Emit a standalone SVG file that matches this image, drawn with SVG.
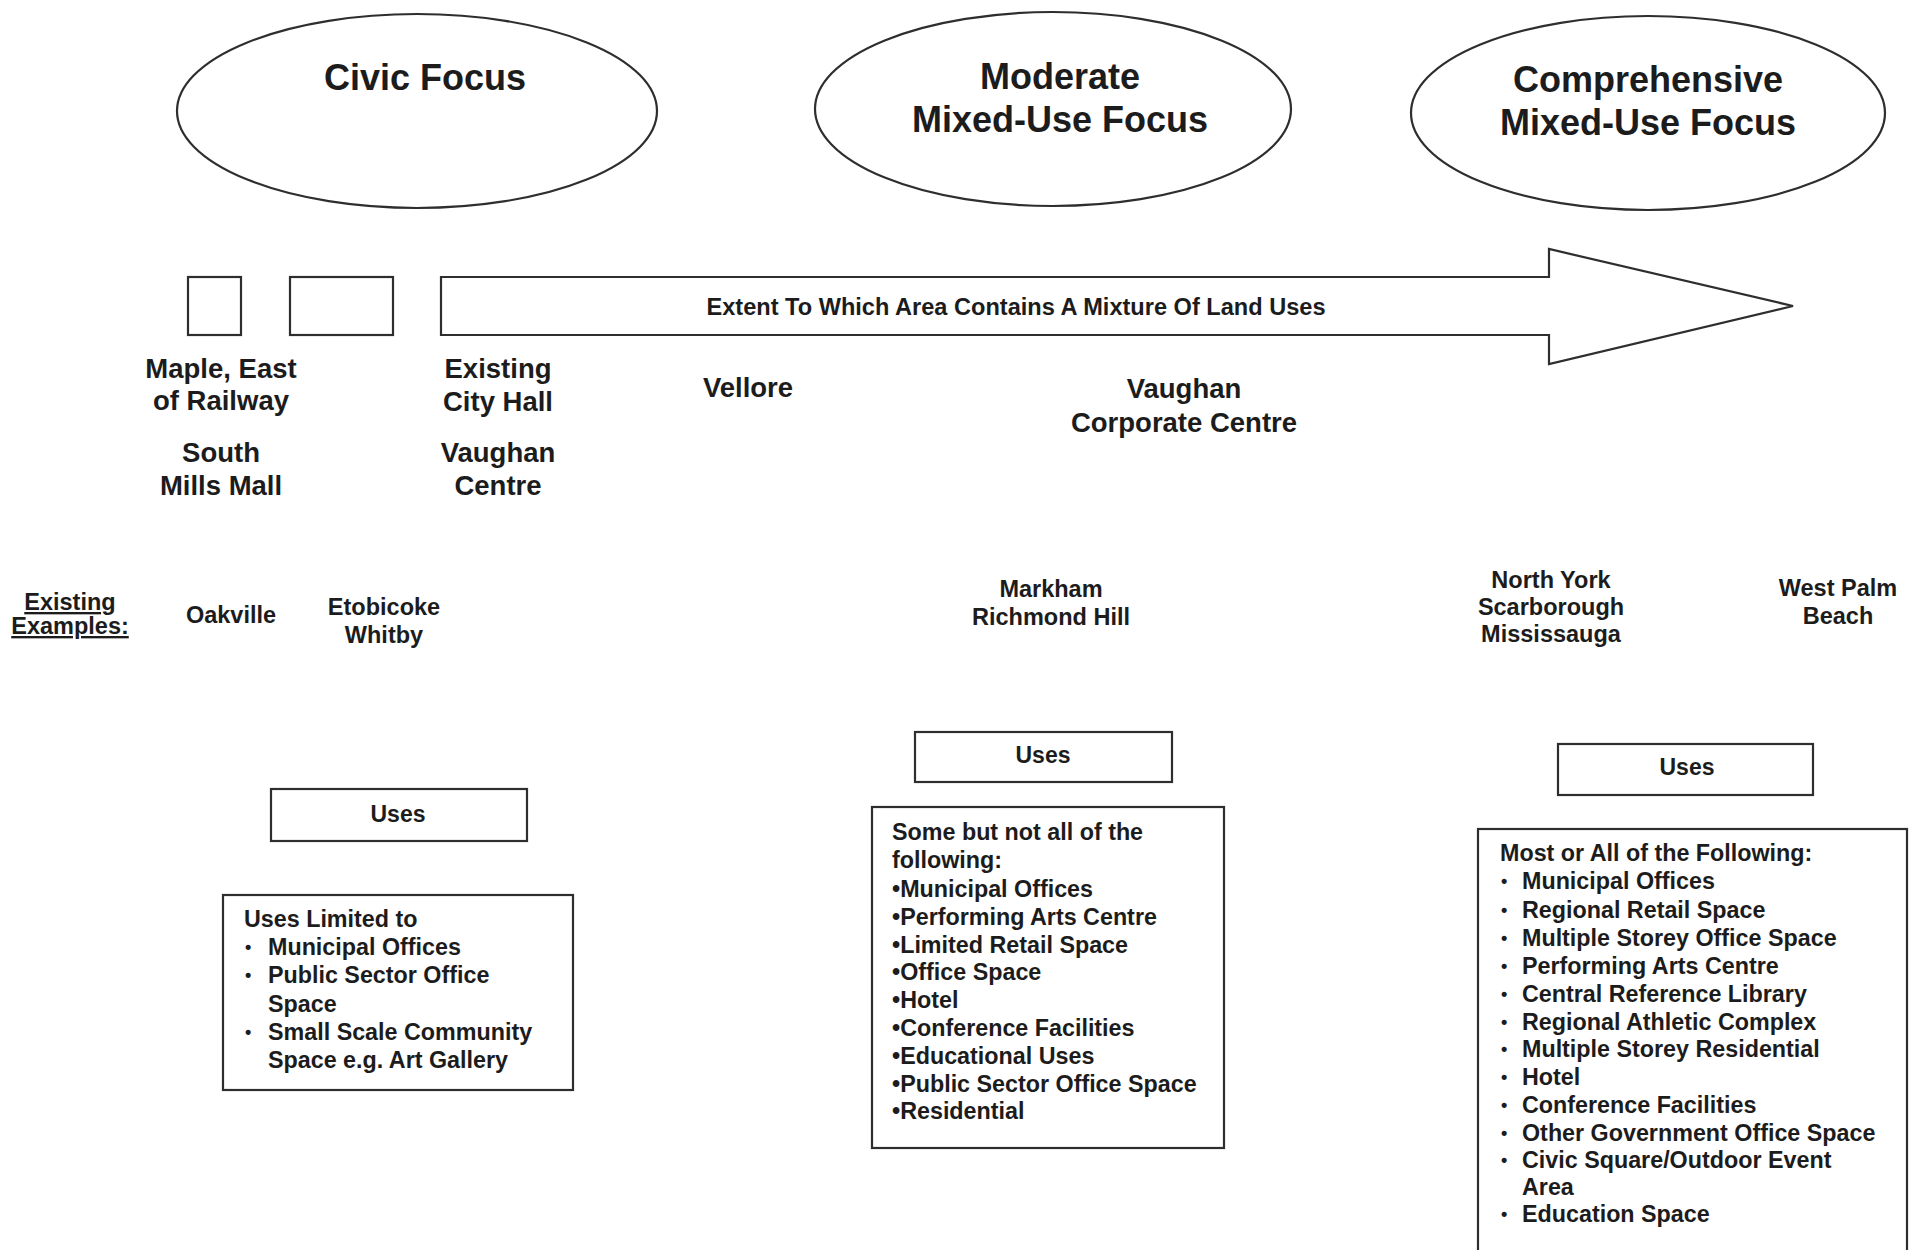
<svg xmlns="http://www.w3.org/2000/svg" width="1919" height="1250" viewBox="0 0 1919 1250">
<style>
.ln{fill:none;stroke:#2e2e2e;stroke-width:2.2}
text{font-family:"Liberation Sans",Arial,sans-serif;font-weight:bold;fill:#1c1c1c}
.big{font-size:36px;text-anchor:middle}
.lab{font-size:27.5px;text-anchor:middle}
.ex{font-size:23.5px;text-anchor:middle}
.hd{font-size:23px;text-anchor:middle}
.it{font-size:23.3px}
.bu{font-size:18px}
</style>
<rect x="0" y="0" width="1919" height="1250" fill="#ffffff"/>
<g id="civic-focus">
<ellipse class="ln" cx="417" cy="111" rx="240" ry="97"/>
<text class="big" x="425" y="90">Civic Focus</text>
</g>
<g id="moderate-focus">
<ellipse class="ln" cx="1053" cy="109" rx="238" ry="97"/>
<text class="big" x="1060" y="89">Moderate</text>
<text class="big" x="1060" y="132">Mixed-Use Focus</text>
</g>
<g id="comprehensive-focus">
<ellipse class="ln" cx="1648" cy="113" rx="237" ry="97"/>
<text class="big" x="1648" y="92">Comprehensive</text>
<text class="big" x="1648" y="135">Mixed-Use Focus</text>
</g>
<g id="box-small-1">
<rect class="ln" x="188" y="277" width="53" height="58"/>
</g>
<g id="box-small-2">
<rect class="ln" x="290" y="277" width="103" height="58"/>
</g>
<g id="connectors">
<polygon class="ln" points="441,277 1549,277 1549,249 1793,306 1549,364 1549,335 441,335"/>
</g>
<g id="arrow-label">
<text x="1016" y="315" font-size="23.5" text-anchor="middle" textLength="619" lengthAdjust="spacingAndGlyphs">Extent To Which Area Contains A Mixture Of Land Uses</text>
</g>
<g id="label-maple">
<text class="lab" x="221" y="378">Maple, East</text>
<text class="lab" x="221" y="410">of Railway</text>
</g>
<g id="label-south-mills">
<text class="lab" x="221" y="462">South</text>
<text class="lab" x="221" y="495">Mills Mall</text>
</g>
<g id="label-city-hall">
<text class="lab" x="498" y="378">Existing</text>
<text class="lab" x="498" y="411">City Hall</text>
</g>
<g id="label-vaughan-centre">
<text class="lab" x="498" y="462">Vaughan</text>
<text class="lab" x="498" y="495">Centre</text>
</g>
<g id="label-vellore">
<text class="lab" x="748" y="397">Vellore</text>
</g>
<g id="label-vcc">
<text class="lab" x="1184" y="398">Vaughan</text>
<text class="lab" x="1184" y="432">Corporate Centre</text>
</g>
<g id="existing-examples">
<text class="ex" x="70" y="610" text-decoration="underline">Existing</text>
<text class="ex" x="70" y="634" text-decoration="underline">Examples:</text>
</g>
<g id="ex-oakville"><text class="ex" x="231" y="623">Oakville</text></g>
<g id="ex-etobicoke">
<text class="ex" x="384" y="615">Etobicoke</text>
<text class="ex" x="384" y="643">Whitby</text>
</g>
<g id="ex-markham">
<text class="ex" x="1051" y="597">Markham</text>
<text class="ex" x="1051" y="625">Richmond Hill</text>
</g>
<g id="ex-northyork">
<text class="ex" x="1551" y="588">North York</text>
<text class="ex" x="1551" y="615">Scarborough</text>
<text class="ex" x="1551" y="642">Mississauga</text>
</g>
<g id="ex-westpalm">
<text class="ex" x="1838" y="596">West Palm</text>
<text class="ex" x="1838" y="624">Beach</text>
</g>
<g id="uses-civic">
<rect class="ln" x="271" y="789" width="256" height="52"/>
<text class="hd" x="398" y="822">Uses</text>
</g>
<g id="uses-civic-list">
<rect class="ln" x="223" y="895" width="350" height="195"/>
<text class="it" x="244" y="927">Uses Limited to</text>
<text class="bu" x="245" y="953">•</text><text class="it" x="268" y="955">Municipal Offices</text>
<text class="bu" x="245" y="981">•</text><text class="it" x="268" y="983">Public Sector Office</text>
<text class="it" x="268" y="1012">Space</text>
<text class="bu" x="245" y="1038">•</text><text class="it" x="268" y="1040">Small Scale Community</text>
<text class="it" x="268" y="1068">Space e.g. Art Gallery</text>
</g>
<g id="uses-moderate">
<rect class="ln" x="915" y="732" width="257" height="50"/>
<text class="hd" x="1043" y="763">Uses</text>
</g>
<g id="uses-moderate-list">
<rect class="ln" x="872" y="807" width="352" height="341"/>
<text class="it" x="892" y="840">Some but not all of the</text>
<text class="it" x="892" y="868">following:</text>
<text class="it" x="892" y="897">•Municipal Offices</text>
<text class="it" x="892" y="925">•Performing Arts Centre</text>
<text class="it" x="892" y="953">•Limited Retail Space</text>
<text class="it" x="892" y="980">•Office Space</text>
<text class="it" x="892" y="1008">•Hotel</text>
<text class="it" x="892" y="1036">•Conference Facilities</text>
<text class="it" x="892" y="1064">•Educational Uses</text>
<text class="it" x="892" y="1092">•Public Sector Office Space</text>
<text class="it" x="892" y="1119">•Residential</text>
</g>
<g id="uses-comprehensive">
<rect class="ln" x="1558" y="744" width="255" height="51"/>
<text class="hd" x="1687" y="775">Uses</text>
</g>
<g id="uses-comprehensive-list">
<rect class="ln" x="1478" y="829" width="429" height="440"/>
<text class="it" x="1500" y="861">Most or All of the Following:</text>
<text class="bu" x="1501" y="887">•</text><text class="it" x="1522" y="889">Municipal Offices</text>
<text class="bu" x="1501" y="916">•</text><text class="it" x="1522" y="918">Regional Retail Space</text>
<text class="bu" x="1501" y="944">•</text><text class="it" x="1522" y="946">Multiple Storey Office Space</text>
<text class="bu" x="1501" y="972">•</text><text class="it" x="1522" y="974">Performing Arts Centre</text>
<text class="bu" x="1501" y="1000">•</text><text class="it" x="1522" y="1002">Central Reference Library</text>
<text class="bu" x="1501" y="1028">•</text><text class="it" x="1522" y="1030">Regional Athletic Complex</text>
<text class="bu" x="1501" y="1055">•</text><text class="it" x="1522" y="1057">Multiple Storey Residential</text>
<text class="bu" x="1501" y="1083">•</text><text class="it" x="1522" y="1085">Hotel</text>
<text class="bu" x="1501" y="1111">•</text><text class="it" x="1522" y="1113">Conference Facilities</text>
<text class="bu" x="1501" y="1139">•</text><text class="it" x="1522" y="1141">Other Government Office Space</text>
<text class="bu" x="1501" y="1166">•</text><text class="it" x="1522" y="1168">Civic Square/Outdoor Event</text>
<text class="it" x="1522" y="1195">Area</text>
<text class="bu" x="1501" y="1220">•</text><text class="it" x="1522" y="1222">Education Space</text>
</g>
</svg>
